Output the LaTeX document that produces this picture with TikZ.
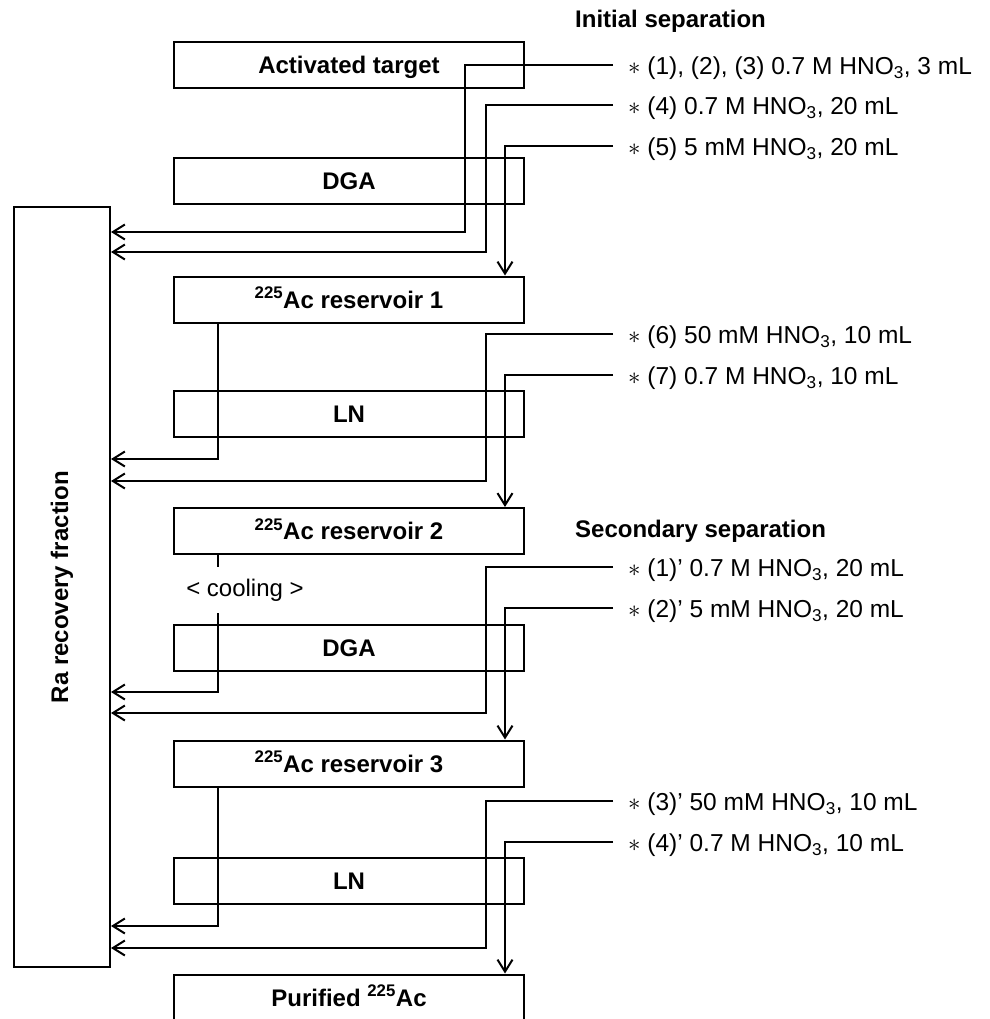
\documentclass[tikz,border=0pt]{standalone}
\usepackage{fontspec}
\setmainfont{Liberation Sans}
\usetikzlibrary{arrows.meta,calc}

\begin{document}
\begin{tikzpicture}[x=1pt,y=-1pt,
  every node/.style={font=\fontsize{24}{28}\selectfont},
  column/.style={draw,line width=2pt,minimum width=350pt,minimum height=46pt,inner sep=0pt,
    text height=17pt,text depth=0pt,font=\fontsize{24}{28}\selectfont\bfseries},
  eluent/.style={anchor=base west,inner sep=0pt,xshift=15pt,yshift=-9.5pt,font=\fontsize{24.5}{28}\selectfont},
  head/.style={anchor=base west,inner sep=0pt,font=\fontsize{24}{28}\selectfont\bfseries},
  pipe/.style={line width=2pt},
  flow/.style={pipe,-{Straight Barb[length=12pt,width=15pt]}}]
\useasboundingbox (0,0) rectangle (989,1019);

\node[draw,line width=2pt,minimum width=96pt,minimum height=760pt,inner sep=0pt] (ra) at (62,587) {};
\node[rotate=90,font=\fontsize{24}{28}\selectfont\bfseries] (ralabel) at (ra.center) {Ra recovery fraction};

\node[column] (target) at (349,65.5) {Activated target};
\node[column] (dga1) at (349,181) {DGA};
\node[column] (res1) at (349,299.5) {\textsuperscript{225}Ac reservoir 1};
\node[column] (ln1) at (349,414) {LN};
\node[column] (res2) at (349,531) {\textsuperscript{225}Ac reservoir 2};
\node[column] (dga2) at (349,648) {DGA};
\node[column] (res3) at (349,763.5) {\textsuperscript{225}Ac reservoir 3};
\node[column] (ln2) at (349,881) {LN};
\node[column] (pure) at (349,997.5) {Purified \textsuperscript{225}Ac};

\node[head] (init) at (575,28) {Initial separation};
\node[head] (second) at (575,537) {Secondary separation};
\node[minimum height=46pt,inner sep=0pt] (cool) at (245,590) {< cooling >};

% initial separation
\coordinate (e1) at (613,65);
\coordinate (e2) at (613,105);
\coordinate (e3) at (613,146);
\node[eluent] (l1) at (e1) {$\ast$ (1), (2), (3) 0.7 M HNO\textsubscript{3}, 3 mL};
\node[eluent] (l2) at (e2) {$\ast$ (4) 0.7 M HNO\textsubscript{3}, 20 mL};
\node[eluent] (l3) at (e3) {$\ast$ (5) 5 mM HNO\textsubscript{3}, 20 mL};
\draw[flow] (e1) -| (465,232) -- (ra.east |- 0,232);
\draw[flow] (e2) -| (486,252) -- (ra.east |- 0,252);
\draw[flow] (e3) -| (res1.north -| 505,0);

\coordinate (e4) at (613,334);
\coordinate (e5) at (613,375);
\node[eluent] (l4) at (e4) {$\ast$ (6) 50 mM HNO\textsubscript{3}, 10 mL};
\node[eluent] (l5) at (e5) {$\ast$ (7) 0.7 M HNO\textsubscript{3}, 10 mL};
\draw[flow] (res1.south -| 218,0) |- (ra.east |- 0,459);
\draw[flow] (e4) -| (486,481) -- (ra.east |- 0,481);
\draw[flow] (e5) -| (res2.north -| 505,0);

% secondary separation
\coordinate (e6) at (613,567);
\coordinate (e7) at (613,608);
\node[eluent] (l6) at (e6) {$\ast$ (1)’ 0.7 M HNO\textsubscript{3}, 20 mL};
\node[eluent] (l7) at (e7) {$\ast$ (2)’ 5 mM HNO\textsubscript{3}, 20 mL};
\draw[pipe] (res2.south -| 218,0) -- (cool.north -| 218,0);
\draw[flow] (cool.south -| 218,0) |- (ra.east |- 0,692);
\draw[flow] (e6) -| (486,713) -- (ra.east |- 0,713);
\draw[flow] (e7) -| (res3.north -| 505,0);

\coordinate (e8) at (613,801);
\coordinate (e9) at (613,842);
\node[eluent] (l8) at (e8) {$\ast$ (3)’ 50 mM HNO\textsubscript{3}, 10 mL};
\node[eluent] (l9) at (e9) {$\ast$ (4)’ 0.7 M HNO\textsubscript{3}, 10 mL};
\draw[flow] (res3.south -| 218,0) |- (ra.east |- 0,926);
\draw[flow] (e8) -| (486,948) -- (ra.east |- 0,948);
\draw[flow] (e9) -| (pure.north -| 505,0);
\end{tikzpicture}
\end{document}
